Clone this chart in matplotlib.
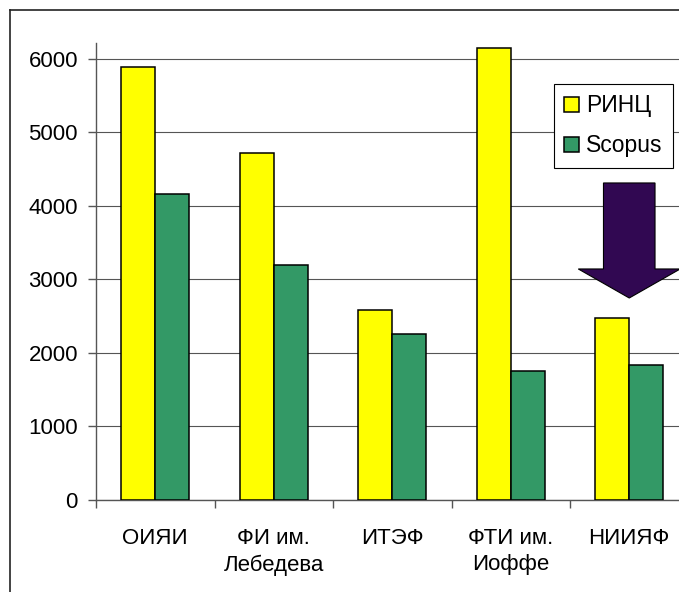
import matplotlib
matplotlib.use("Agg")
import matplotlib.pyplot as plt
import numpy as np
from matplotlib.lines import Line2D
from matplotlib.patches import FancyArrow

plt.rcParams['font.family'] = ['Liberation Sans', 'DejaVu Sans']

# Publication counts per institute
institutes = ["ОИЯИ", "ФИ им.\nЛебедева", "ИТЭФ", "ФТИ им.\nИоффе", "НИИЯФ"]
rinc = [5890, 4720, 2580, 6150, 2470]
scopus = [4160, 3200, 2260, 1760, 1830]
series_names = ["РИНЦ", "Scopus"]
y_ticks = [0, 1000, 2000, 3000, 4000, 5000, 6000]

W, H = 679, 592
fig = plt.figure(figsize=(W / 100, H / 100), dpi=100)
ax = fig.add_axes([96 / W, 1 - 500 / H, 1 - 96 / W, (500 - 43.3) / H])

x = np.arange(len(institutes))
bw = 0.287
ax.bar(x - bw / 2, rinc, bw, color="#FFFF00", edgecolor="black", linewidth=1.1,
       label=series_names[0], zorder=3)
ax.bar(x + bw / 2, scopus, bw, color="#339966", edgecolor="black", linewidth=1.1,
       label=series_names[1], zorder=3)

ax.set_yticks(y_ticks)
ax.set_yticklabels([str(v) for v in y_ticks])
ax.yaxis.grid(True, color="#555555", linewidth=0.8, zorder=0)
ax.set_axisbelow(True)

# category labels at centres, tick marks on boundaries
ax.set_xticks(x)
ax.set_xticklabels(institutes, linespacing=1.35)
ax.set_xticks(np.arange(len(institutes) + 1) - 0.5, minor=True)
ax.tick_params(axis="x", which="major", length=0, pad=20, labelsize=16)
ax.tick_params(axis="x", which="minor", length=6, width=1, color="#555555", direction="out")
ax.tick_params(axis="y", length=6, width=1, color="#555555", pad=7, labelsize=16)

# the last group is cut at the right edge
ax.set_xlim(-0.5, (679 - 96) / 118.5 - 0.5)
ax.set_ylim(0, 6213)

for side in ("top", "right"):
    ax.spines[side].set_visible(False)
for side in ("left", "bottom"):
    ax.spines[side].set_color("#555555")
    ax.spines[side].set_linewidth(1)

leg = ax.legend(loc="upper left", bbox_to_anchor=(0.7856, 0.911), fontsize=16.5,
                frameon=True, fancybox=False, edgecolor="black", framealpha=1,
                handlelength=0.65, handleheight=0.65, handletextpad=0.3,
                labelspacing=0.75, borderpad=0.45, borderaxespad=0)
leg.get_frame().set_linewidth(0.8)

# downward arrow over the last group
arrow = FancyArrow(4.0, 4313, 0, -1565, width=0.435, head_width=0.86,
                   head_length=395, length_includes_head=True,
                   facecolor="#310852", edgecolor="black", linewidth=0.8, zorder=5)
ax.add_patch(arrow)

# outer frame (left and top edges)
fig.add_artist(Line2D([10 / W, 10 / W], [0, 1 - 10 / H], transform=fig.transFigure,
                      color="#222222", linewidth=1.2))
fig.add_artist(Line2D([10 / W, 1], [1 - 10 / H, 1 - 10 / H], transform=fig.transFigure,
                      color="#222222", linewidth=1.2))

fig.savefig("out.png", dpi=100)
